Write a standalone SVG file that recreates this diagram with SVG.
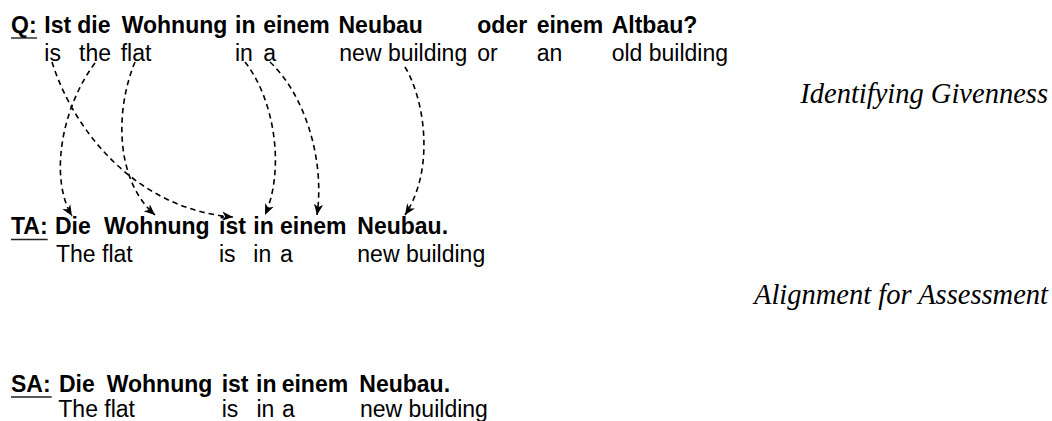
<svg xmlns="http://www.w3.org/2000/svg" width="1052" height="421" viewBox="0 0 1052 421">
  <style>
    .src { font-family: "Liberation Sans", Arial, Helvetica, sans-serif; font-size: 23px; font-weight: bold; fill: #000; }
    .gl { font-family: "Liberation Sans", Arial, Helvetica, sans-serif; font-size: 23px; fill: #000; }
    .cap { font-family: "Liberation Serif", "Times New Roman", serif; font-size: 28.5px; font-style: italic; fill: #000; }
    .ul { stroke: #222; stroke-width: 1.4; }
    .link { fill: none; stroke: #000; stroke-width: 1.6; stroke-dasharray: 5.5 4; }
  </style>
  <defs>
    <marker id="ah" viewBox="0 0 12 10" markerWidth="12" markerHeight="10" refX="11" refY="5" orient="auto" markerUnits="userSpaceOnUse">
      <path d="M0,0.3 L11,5 L0,9.7 L3.2,5 Z" fill="#000"/>
    </marker>
  </defs>

  <!-- question with word-by-word gloss -->
  <g id="question">
    <text class="src" x="11" y="33">Q:</text>
    <line class="ul" x1="11" y1="38" x2="37" y2="38"/>
    <text class="src" y="33"><tspan x="44.3">Ist</tspan><tspan x="77.3">die</tspan><tspan x="121.7">Wohnung</tspan><tspan x="235">in</tspan><tspan x="263.3">einem</tspan><tspan x="338.5">Neubau</tspan><tspan x="477.3">oder</tspan><tspan x="536.7">einem</tspan><tspan x="611.7">Altbau?</tspan></text>
    <text class="gl" y="60.5"><tspan x="44.3">is</tspan><tspan x="79">the</tspan><tspan x="120.7">flat</tspan><tspan x="235">in</tspan><tspan x="263.3">a</tspan><tspan x="339.3">new building</tspan><tspan x="477.3">or</tspan><tspan x="536.7">an</tspan><tspan x="611.7">old building</tspan></text>
  </g>

  <!-- target answer -->
  <g id="target-answer">
    <text class="src" x="11" y="234.3">TA:</text>
    <line class="ul" x1="11" y1="239.5" x2="47.7" y2="239.5"/>
    <text class="src" y="234.3"><tspan x="55">Die</tspan><tspan x="104">Wohnung</tspan><tspan x="219">ist</tspan><tspan x="253.3">in</tspan><tspan x="280">einem</tspan><tspan x="357.3">Neubau.</tspan></text>
    <text class="gl" y="261.7"><tspan x="56">The flat</tspan><tspan x="219">is</tspan><tspan x="253.3">in</tspan><tspan x="280">a</tspan><tspan x="357.3">new building</tspan></text>
  </g>

  <!-- student answer -->
  <g id="student-answer">
    <text class="src" x="11" y="392">SA:</text>
    <line class="ul" x1="11" y1="397" x2="51.7" y2="397"/>
    <text class="src" y="392"><tspan x="59">Die</tspan><tspan x="106.7">Wohnung</tspan><tspan x="221.7">ist</tspan><tspan x="256">in</tspan><tspan x="281.7">einem</tspan><tspan x="359.3">Neubau.</tspan></text>
    <text class="gl" y="416.5"><tspan x="58.3">The flat</tspan><tspan x="221.7">is</tspan><tspan x="256.5">in</tspan><tspan x="282">a</tspan><tspan x="360">new building</tspan></text>
  </g>

  <!-- step captions -->
  <g id="caption-givenness">
    <text class="cap" x="1048" y="103" text-anchor="end">Identifying Givenness</text>
  </g>
  <g id="caption-alignment">
    <text class="cap" x="1048" y="304" text-anchor="end">Alignment for Assessment</text>
  </g>

  <!-- givenness links from question gloss to target answer -->
  <g id="links">
    <path class="link" marker-end="url(#ah)" d="M52,62 C75,135 140,210 233,217"/>
    <path class="link" marker-end="url(#ah)" d="M95,63 C60,110 50,180 72,216"/>
    <path class="link" marker-end="url(#ah)" d="M135,62 C115,110 115,180 155,215"/>
    <path class="link" marker-end="url(#ah)" d="M245,62 C275,100 285,170 265,215"/>
    <path class="link" marker-end="url(#ah)" d="M270,62 C305,95 325,160 317,215"/>
    <path class="link" marker-end="url(#ah)" d="M405,67 C425,100 435,170 405,215"/>
  </g>
</svg>
